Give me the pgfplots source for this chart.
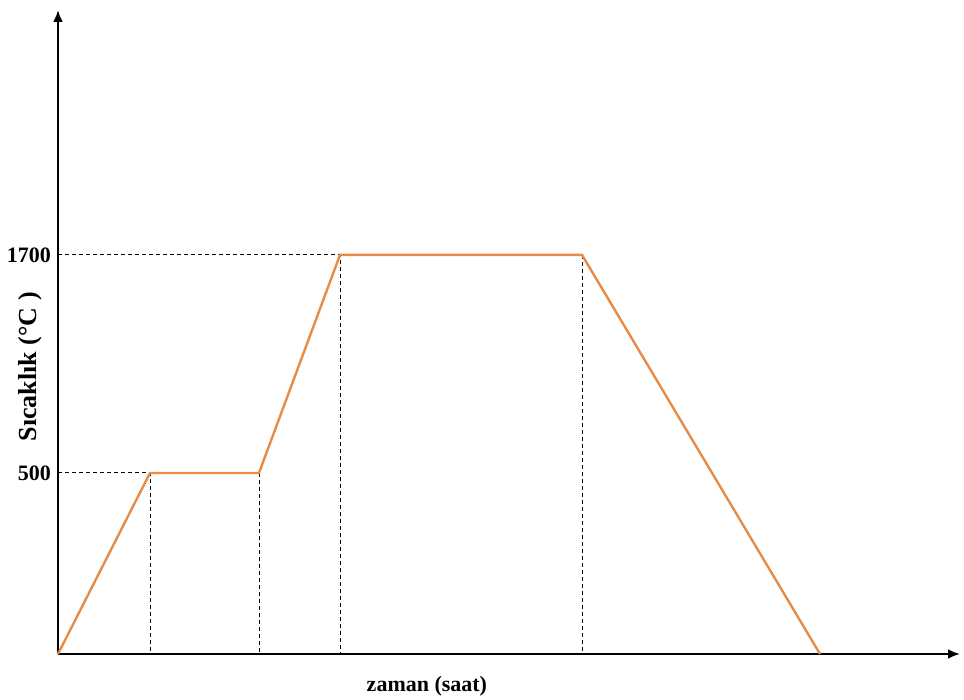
\documentclass[border=0pt]{standalone}
\usepackage{fontspec}
\setmainfont{Liberation Serif}
\usepackage{pgfplots}
\usetikzlibrary{arrows.meta}
\pgfplotsset{compat=1.18}
\definecolor{curve}{RGB}{230,140,70}
\begin{document}
\begin{tikzpicture}
\begin{axis}[
  scale only axis, width=451pt, height=322pt,
  xmin=0, xmax=902, ymin=0, ymax=3048,
  y coord trafo/.code={\pgfmathparse{ifthenelse(#1>500,181+(#1-500)*0.1816667,#1*0.362)}},
  axis lines=left,
  axis line style={line width=1.2pt,-{Latex[length=6pt,width=5pt]}},
  xtick=\empty, ytick={500,1700}, yticklabels={\textbf{500},\textbf{1700}},
  major tick length=0pt,
  tick label style={font=\fontsize{11}{13}\selectfont},
  xlabel={\textbf{zaman (saat)}},
  ylabel={\textbf{Sıcaklık (°C )}},
  xlabel style={font=\fontsize{11}{13}\selectfont,at={(axis description cs:0.409,0)},anchor=center,yshift=-16pt},
  ylabel style={font=\fontsize{13}{15}\selectfont,at={(axis description cs:-0.031,0.446)},anchor=center},
  clip=false,
]
\coordinate (o) at (rel axis cs:0,0);
\addplot[black, line width=0.5pt, dash pattern=on 2pt off 1.5pt] coordinates {(0,500)(92,500)(92,0)};
\addplot[black, line width=0.5pt, dash pattern=on 2pt off 1.5pt] coordinates {(0,1700)(282,1700)(282,0)};
\addplot[black, line width=0.5pt, dash pattern=on 2pt off 1.5pt] coordinates {(201,500)(201,0)};
\addplot[black, line width=0.5pt, dash pattern=on 2pt off 1.5pt] coordinates {(524,1700)(524,0)};
\addplot[curve, line width=1.2pt] coordinates {(0,0)(92,500)(201,500)(282,1700)(524,1700)(762,0)};
\end{axis}
\pgfresetboundingbox
\path ([xshift=-29pt,yshift=-23pt]o) rectangle ([xshift=453pt,yshift=327pt]o);
\end{tikzpicture}
\end{document}
